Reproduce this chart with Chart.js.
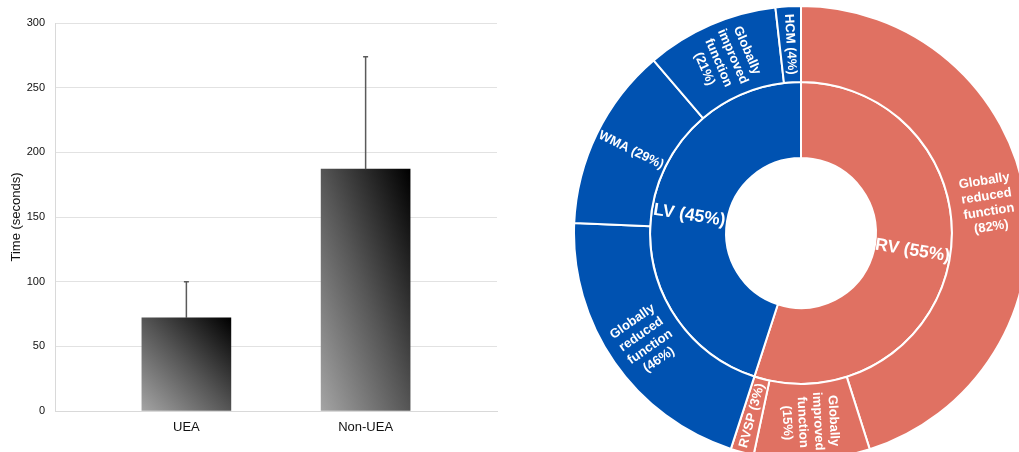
<!DOCTYPE html>
<html>
<head>
<meta charset="utf-8">
<script src="https://cdn.jsdelivr.net/npm/chart.js@4.4.1/dist/chart.umd.min.js"></script>
<style>
  html, body { margin: 0; padding: 0; background: #fff; width: 1019px; height: 452px; overflow: hidden; position: relative; }
  #bar-wrap { position: absolute; left: 0; top: 0; width: 520px; height: 452px; }
  #ring-wrap { position: absolute; left: 573px; top: 5px; width: 456px; height: 456px; }
</style>
</head>
<body>
<div id="bar-wrap"><canvas id="bar-chart"></canvas></div>
<div id="ring-wrap"><canvas id="ring-chart"></canvas></div>
<script>
// bar chart data
const groups = ["UEA", "Non-UEA"];
const meanTime = [72, 187];
const errTime = [28, 87];
const yTicks = [0, 50, 100, 150, 200, 250, 300];

// sunburst data (percent of parent)
const sides = ["RV", "LV"];
const sideShare = [55, 45];
const rvNames = ["Globally reduced function", "Globally improved function", "RVSP"];
const rvShare = [82, 15, 3];
const lvNames = ["Globally reduced function", "WMA", "Globally improved function", "HCM"];
const lvShare = [46, 29, 21, 4];

const RED = "#E07162";
const BLUE = "#0052B1";

Chart.defaults.font.family = "'Liberation Sans', Arial, Helvetica, sans-serif";

// ---------- left: bar chart ----------
function barFill(c) {
  const chart = c.chart;
  const xs = chart.scales.x, ys = chart.scales.y;
  if (!chart.chartArea || !xs || !ys || c.type !== "data") return "#555";
  const cx = xs.getPixelForValue(c.dataIndex);
  const top = ys.getPixelForValue(meanTime[c.dataIndex]);
  const bottom = ys.getPixelForValue(0);
  const w = 89, h = bottom - top;
  const cy = (top + bottom) / 2;
  const L = Math.sqrt(w * w + h * h);
  // isolines run parallel to the top-left / bottom-right diagonal
  const dx = h / L, dy = -w / L;
  const s = (w * h) / L;
  const g = chart.ctx.createLinearGradient(cx - dx * s, cy - dy * s, cx + dx * s, cy + dy * s);
  g.addColorStop(0, "#a4a4a4");
  g.addColorStop(0.5, "#555555");
  g.addColorStop(1, "#000000");
  return g;
}

const errorBars = {
  id: "errorBars",
  afterDatasetsDraw(chart) {
    const ctx = chart.ctx;
    const xs = chart.scales.x, ys = chart.scales.y;
    ctx.save();
    ctx.strokeStyle = "#5a5a5a";
    ctx.lineWidth = 1.5;
    meanTime.forEach((m, i) => {
      const x = xs.getPixelForValue(i);
      const y0 = ys.getPixelForValue(m);
      const y1 = ys.getPixelForValue(m + errTime[i]);
      ctx.beginPath();
      ctx.moveTo(x, y0);
      ctx.lineTo(x, y1);
      ctx.moveTo(x - 2.5, y1);
      ctx.lineTo(x + 2.5, y1);
      ctx.stroke();
    });
    ctx.restore();
  }
};

new Chart(document.getElementById("bar-chart"), {
  type: "bar",
  data: {
    datasets: [
      {
        label: "Time",
        data: meanTime.map((v, i) => ({ x: i, y: v })),
        backgroundColor: barFill,
        barThickness: 89,
        borderWidth: 0,
      },
    ],
  },
  options: {
    responsive: true,
    maintainAspectRatio: false,
    animation: false,
    layout: { padding: { top: 23, right: 23, left: 0, bottom: 0 } },
    plugins: {
      legend: { display: false },
      tooltip: { enabled: false },
    },
    scales: {
      x: {
        type: "linear",
        offset: false,
        min: -0.733,
        max: 1.733,
        afterBuildTicks: (s) => { s.ticks = groups.map((g, i) => ({ value: i })); },
        ticks: {
          callback: (v) => groups[v] ?? "",
          font: { size: 13 },
          color: "#111",
          padding: 9,
          maxRotation: 0,
          autoSkip: false,
        },
        grid: { display: false, drawTicks: false, offset: false },
        border: { display: true, color: "#d9d9d9" },
        afterFit: (s) => { s.height = 41; },
      },
      y: {
        min: 0,
        max: 300,
        afterBuildTicks: (s) => { s.ticks = yTicks.map((v) => ({ value: v })); },
        ticks: { font: { size: 11 }, color: "#111", padding: 10 },
        grid: { color: "#e2e2e2", drawTicks: false },
        border: { display: true, color: "#d9d9d9" },
        title: {
          display: true,
          text: "Time (seconds)",
          font: { size: 13 },
          color: "#111",
          padding: { top: 9, bottom: 0 },
        },
        afterFit: (s) => { s.width = 55; },
      },
    },
  },
  plugins: [errorBars],
});

// ---------- right: two-ring doughnut ----------
const outerShare = rvShare.map((v) => (v * sideShare[0]) / 100)
  .concat(lvShare.map((v) => (v * sideShare[1]) / 100));
const outerNames = rvNames.concat(lvNames);
const outerPct = rvShare.concat(lvShare);
const outerColors = rvShare.map(() => RED).concat(lvShare.map(() => BLUE));

function labelLines(name, pct) {
  const words = name.split(" ");
  if (words.length === 1) return [name + " (" + pct + "%)"];
  return words.concat(["(" + pct + "%)"]);
}

const outerText = outerNames.map((n, i) => labelLines(n, outerPct[i]));
const innerText = sides.map((s, i) => [s + " (" + sideShare[i] + "%)"]);

const ringLabels = {
  id: "ringLabels",
  afterDatasetsDraw(chart) {
    const ctx = chart.ctx;
    const texts = [outerText, innerText];
    const sizes = [13, 17.5];
    const lineH = [15.5, 20];
    chart.data.datasets.forEach((ds, di) => {
      const meta = chart.getDatasetMeta(di);
      meta.data.forEach((arc, i) => {
        const p = arc.getProps(["x", "y", "startAngle", "endAngle", "innerRadius", "outerRadius"], true);
        const mid = (p.startAngle + p.endAngle) / 2;
        const r = (p.innerRadius + p.outerRadius) / 2;
        let rot = mid;
        if (Math.cos(mid) < 0) rot += Math.PI;
        const lines = texts[di][i];
        ctx.save();
        ctx.translate(p.x + r * Math.cos(mid), p.y + r * Math.sin(mid));
        ctx.rotate(rot);
        ctx.font = "bold " + sizes[di] + "px 'Liberation Sans', Arial, sans-serif";
        ctx.fillStyle = "#fff";
        ctx.textAlign = "center";
        ctx.textBaseline = "middle";
        lines.forEach((t, k) => {
          ctx.fillText(t, 0, (k - (lines.length - 1) / 2) * lineH[di]);
        });
        ctx.restore();
      });
    });
  }
};

new Chart(document.getElementById("ring-chart"), {
  type: "doughnut",
  data: {
    labels: outerNames,
    datasets: [
      {
        label: "Sub",
        data: outerShare,
        backgroundColor: outerColors,
        borderColor: "#fff",
        borderWidth: 2,
      },
      {
        label: "Side",
        data: sideShare,
        backgroundColor: [RED, BLUE],
        borderColor: "#fff",
        borderWidth: 2,
      },
    ],
  },
  options: {
    responsive: true,
    maintainAspectRatio: false,
    animation: false,
    cutout: "33%",
    layout: { padding: 0 },
    plugins: {
      legend: { display: false },
      tooltip: { enabled: false },
    },
  },
  plugins: [ringLabels],
});
</script>
</body>
</html>
